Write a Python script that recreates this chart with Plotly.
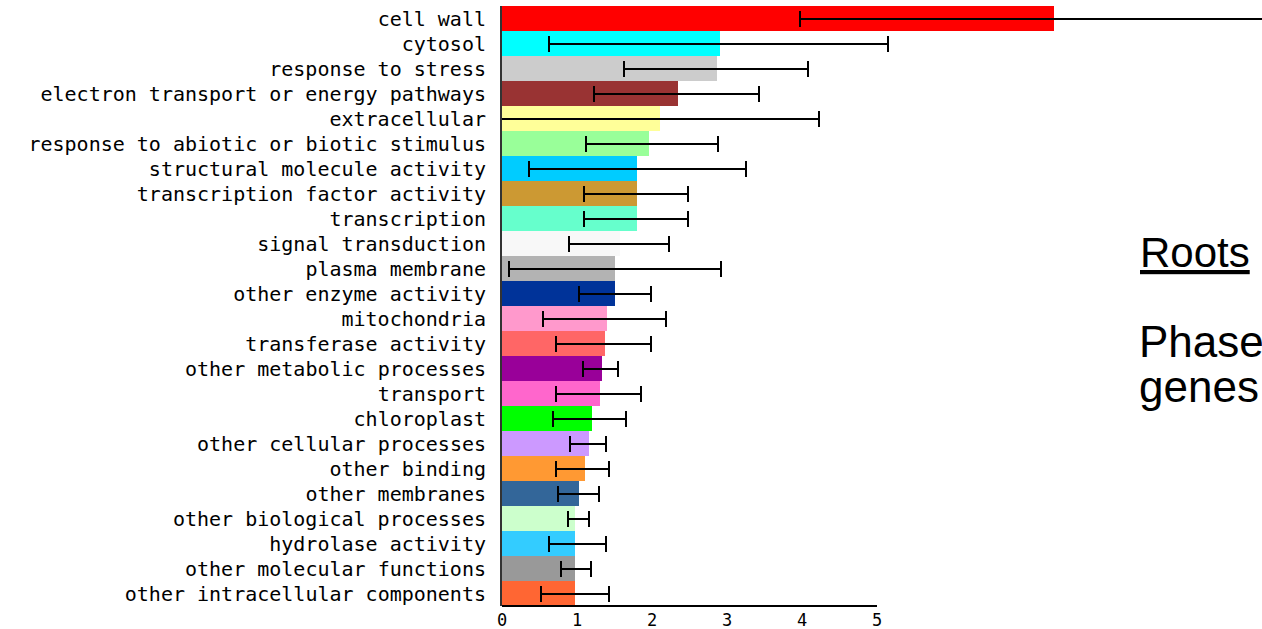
import plotly.graph_objects as go

categories = [
    "cell wall", "cytosol", "response to stress", "electron transport or energy pathways",
    "extracellular", "response to abiotic or biotic stimulus", "structural molecule activity",
    "transcription factor activity", "transcription", "signal transduction",
    "plasma membrane", "other enzyme activity", "mitochondria", "transferase activity",
    "other metabolic processes", "transport", "chloroplast", "other cellular processes",
    "other binding", "other membranes", "other biological processes", "hydrolase activity",
    "other molecular functions", "other intracellular components",
]
values = [7.36, 2.90, 2.87, 2.34, 2.10, 1.96, 1.80, 1.80, 1.80, 1.57, 1.50, 1.50,
          1.40, 1.37, 1.33, 1.30, 1.20, 1.16, 1.10, 1.03, 0.97, 0.97, 0.97, 0.97]
err_low = [3.97, 0.62, 1.62, 1.22, -0.04, 1.12, 0.36, 1.09, 1.09, 0.89, 0.09, 1.02,
           0.55, 0.72, 1.08, 0.72, 0.68, 0.90, 0.72, 0.75, 0.88, 0.62, 0.78, 0.52]
err_high = [10.8, 5.14, 4.08, 3.42, 4.22, 2.88, 3.25, 2.48, 2.48, 2.22, 2.92, 1.98,
            2.19, 1.99, 1.55, 1.85, 1.65, 1.39, 1.42, 1.29, 1.16, 1.39, 1.18, 1.42]
colors = ["#ff0000", "#00ffff", "#cccccc", "#993333", "#ffff99", "#99ff99", "#00ccff",
          "#cc9933", "#66ffcc", "#f8f8f8", "#b3b3b3", "#003399", "#ff99cc", "#ff6666",
          "#990099", "#ff66cc", "#00ff00", "#cc99ff", "#ff9933", "#336699", "#ccffcc",
          "#33ccff", "#999999", "#ff6633"]
x_ticks = [0, 1, 2, 3, 4, 5]

plus = [h - v for h, v in zip(err_high, values)]
minus = [v - l for l, v in zip(err_low, values)]

W, H = 1262, 629
L, T, B = 502, 6, 23
px_per_unit = 75.0
xmax = (W - L) / px_per_unit

fig = go.Figure()
fig.add_trace(go.Bar(
    x=values, y=categories, orientation="h",
    marker=dict(color=colors, line=dict(width=0)),
    error_x=dict(type="data", symmetric=False, array=plus, arrayminus=minus,
                 color="black", thickness=2, width=8),
    showlegend=False,
))

mono = "DejaVu Sans Mono"
fig.update_layout(
    width=W, height=H,
    margin=dict(l=L, r=0, t=T, b=B, pad=0),
    paper_bgcolor="white", plot_bgcolor="white",
    bargap=0,
    xaxis=dict(range=[0, xmax], tickvals=x_ticks, ticktext=[str(t) for t in x_ticks],
               showgrid=False, zeroline=False, showline=False, ticks="",
               ticklabelstandoff=2,
               tickfont=dict(family=mono, size=17, color="black")),
    yaxis=dict(autorange="reversed", categoryorder="array", categoryarray=categories,
               showgrid=False, zeroline=False, showline=True, linecolor="#333333",
               linewidth=2, ticks="", ticklabelstandoff=10,
               tickfont=dict(family=mono, size=20, color="black")),
)
# x-axis baseline only spanning 0..5
fig.add_shape(type="line", xref="x", yref="paper", x0=0, x1=x_ticks[-1], y0=0, y1=0,
              line=dict(color="black", width=2))

def ypaper(py):
    return (H - B - py) / (H - T - B)

def xpaper(px):
    return (px - L) / (W - L)

fig.add_annotation(text="<u>Roots</u>", xref="paper", yref="paper",
                   x=xpaper(1138), y=ypaper(253), xanchor="left", yanchor="middle",
                   showarrow=False,
                   font=dict(family="Liberation Sans", size=42, color="black"))
fig.add_annotation(text="Phase", xref="paper", yref="paper",
                   x=xpaper(1137), y=ypaper(341), xanchor="left", yanchor="middle",
                   showarrow=False,
                   font=dict(family="Liberation Sans", size=44, color="black"))
fig.add_annotation(text="genes", xref="paper", yref="paper",
                   x=xpaper(1137), y=ypaper(386), xanchor="left", yanchor="middle",
                   showarrow=False,
                   font=dict(family="Liberation Sans", size=44, color="black"))

fig.write_html("out.html", config={"displayModeBar": False},
               post_script="document.body.style.margin='0';document.body.style.overflow='hidden';")
